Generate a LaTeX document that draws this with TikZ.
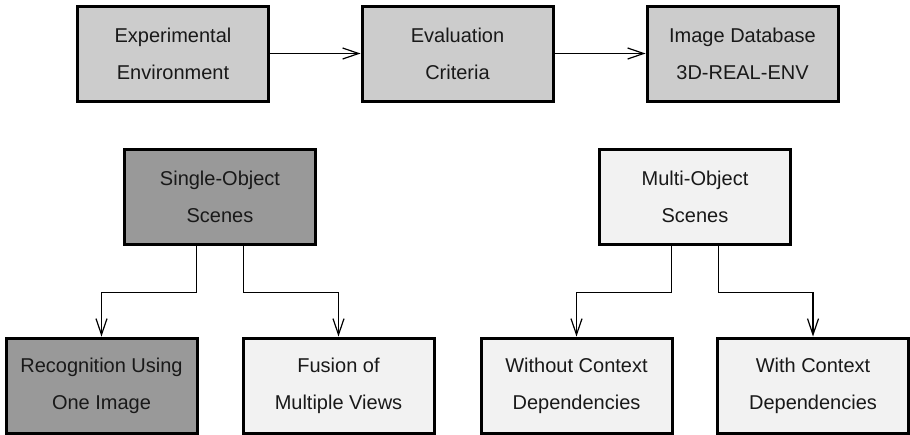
\documentclass[tikz,border=0pt]{standalone}
\usepackage{fontspec}
\setmainfont{Liberation Sans}
\usetikzlibrary{arrows.meta,positioning}
\definecolor{midgray}{HTML}{CCCCCC}
\definecolor{darkgray}{HTML}{999999}
\definecolor{palegray}{HTML}{F2F2F2}
\tikzset{
  box/.style={draw=black, line width=3pt, rectangle, minimum width=191pt,
    minimum height=95pt, align=center, inner sep=0pt, text=black!90,
    font=\fontsize{20pt}{37pt}\selectfont},
  toprow/.style={box, fill=midgray},
  darkbox/.style={box, fill=darkgray},
  lightbox/.style={box, fill=palegray},
  link/.style={draw=black, line width=1.2pt, -{Straight Barb[length=16pt,width=11pt,line width=1.2pt]}},
}
\begin{document}
\begin{tikzpicture}[x=1pt,y=-1pt]
  \useasboundingbox (0,0) rectangle (910,434);
  % top row
  \node[toprow] (exp)  at (173,53.5)   {Experimental\\Environment};
  \node[toprow] (eval) at (457.5,53.5) {Evaluation\\Criteria};
  \node[toprow] (db)   at (742.5,53.5) {Image Database\\3D-REAL-ENV};
  \draw[link] (exp.east) -- (eval.west);
  \draw[link] (eval.east) -- (db.west);
  % scene types
  \node[darkbox]  (single) at (220,196.5) {Single-Object\\Scenes};
  \node[lightbox] (multi)  at (695,196.5) {Multi-Object\\Scenes};
  % leaves
  \node[darkbox]  (rec) at (101.5,385.5) {Recognition Using\\One Image};
  \node[lightbox] (fus) at (338.5,385.5) {Fusion of\\Multiple Views};
  \node[lightbox] (wo)  at (576.5,385.5) {Without Context\\Dependencies};
  \node[lightbox] (wi)  at (813,385.5)   {With Context\\Dependencies};
  % branches
  \draw[link] ([xshift=-23.5pt]single.south) -- ++(0,47) -| (rec.north);
  \draw[link] ([xshift=23.5pt]single.south) -- ++(0,47) -| (fus.north);
  \draw[link] ([xshift=-23.5pt]multi.south) -- ++(0,47) -| (wo.north);
  \draw[link] ([xshift=23.5pt]multi.south) -- ++(0,47) -| (wi.north);
\end{tikzpicture}
\end{document}
